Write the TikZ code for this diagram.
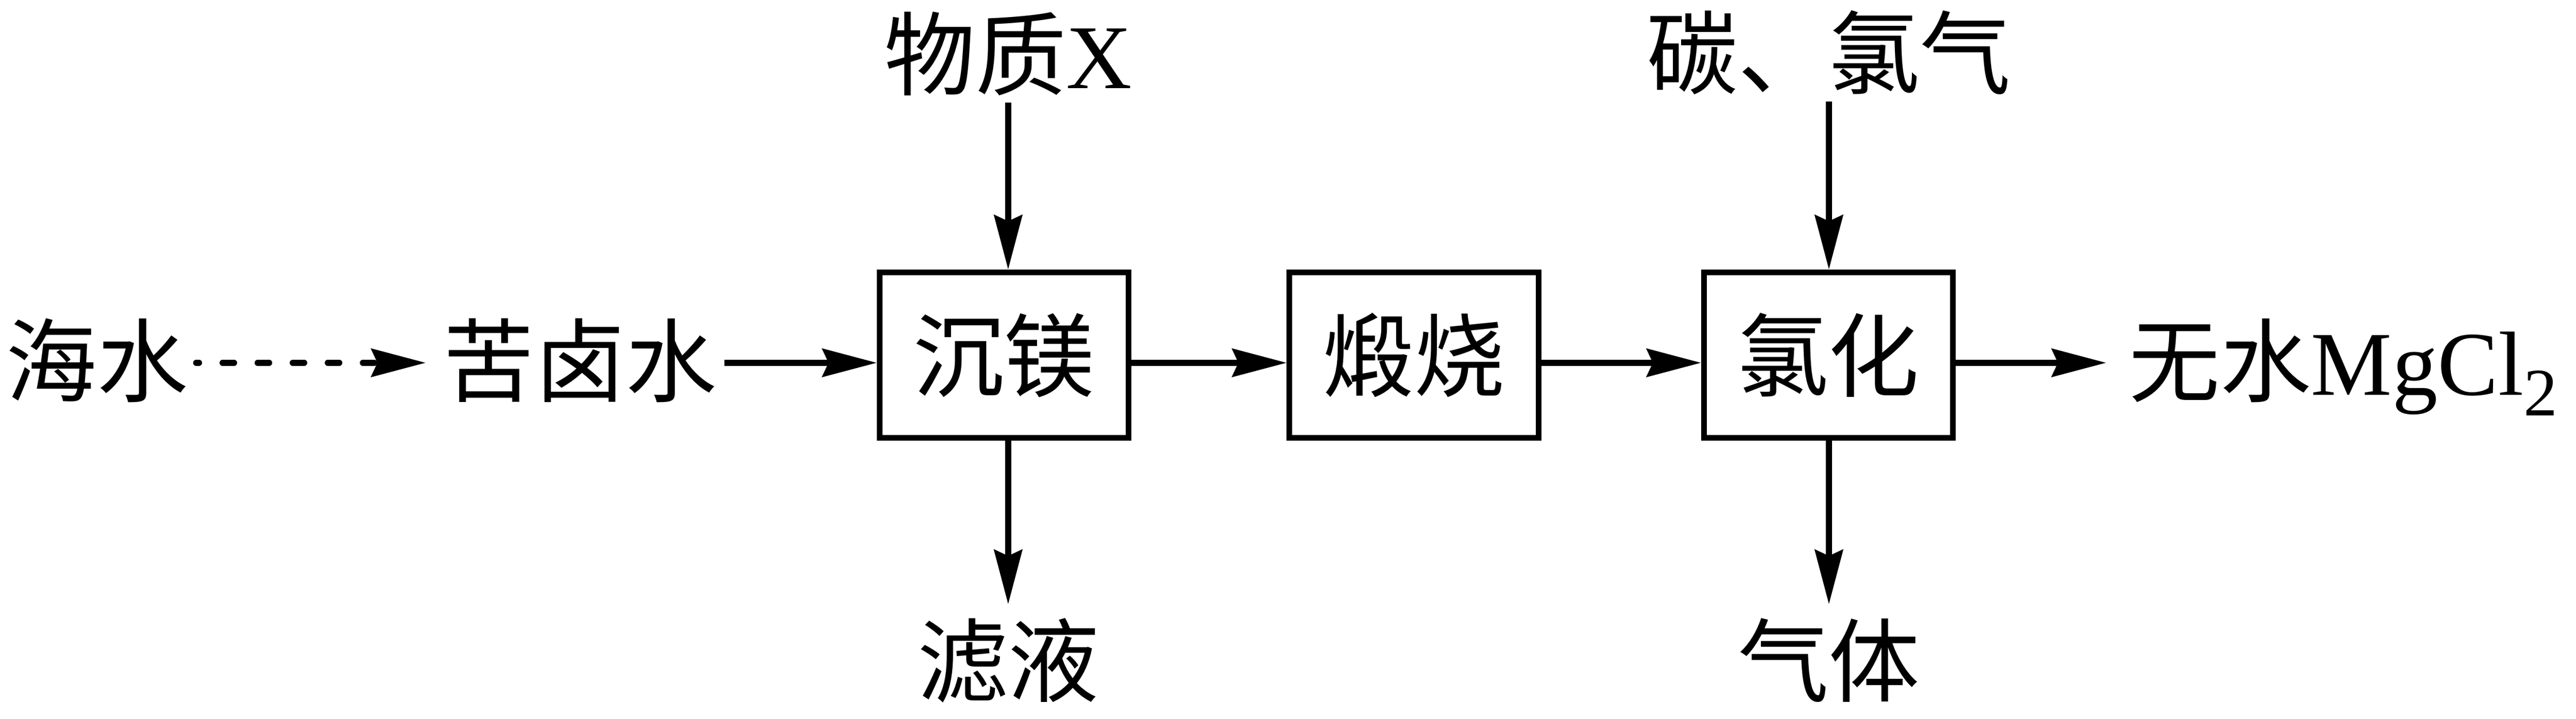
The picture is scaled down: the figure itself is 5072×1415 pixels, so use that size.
\documentclass[tikz,border=0pt]{standalone}
\usepackage{fontspec}
\setmainfont{Liberation Serif}
\newfontfamily\cjk{Noto Sans CJK SC}
\usetikzlibrary{arrows.meta}
\begin{document}
\begin{tikzpicture}[x=0.01cm, y=-0.01cm,
  every node/.style={font=\fontsize{51}{60}\selectfont},
  lbl/.style={inner xsep=0.15cm, inner ysep=0.05cm, text height=1.58cm, text depth=0.22cm},
  procbox/.style={draw, line width=3.1pt, minimum width=4.9cm, minimum height=3.26cm, inner sep=0pt, text height=1.58cm, text depth=0.22cm},
  flow/.style={line width=3.3pt, -{Stealth[length=1.07cm, width=0.55cm, inset=0.12cm]}},
  dflow/.style={flow, line cap=round, dash pattern=on 0.23cm off 0.46cm, dash phase=0.17cm},
]
\useasboundingbox (0,0) rectangle (5072,1415);

% text labels
\node[lbl] (sea)  at (191,709)  {{\cjk 海水}};
\node[lbl] (kulu) at (1142,709) {{\cjk 苦卤水}};
\node[lbl] (mx)   at (1985,106) {{\cjk 物质}X};
\node[lbl] (cl)   at (3601,104) {{\cjk 碳、氯气}};
\node[lbl] (lv)   at (1985,1300) {{\cjk 滤液}};
\node[lbl] (gt)   at (3601,1300) {{\cjk 气体}};
\node[lbl, anchor=west] (out) at (4176,709) {{\cjk 无水}MgCl\raisebox{-0.41cm}{\fontsize{38}{40}\selectfont 2}};

% process boxes
\node[procbox] (b1) at (1977,699) {{\cjk 沉镁}};
\node[procbox] (b2) at (2784,699) {{\cjk 煅烧}};
\node[procbox] (b3) at (3600,699) {{\cjk 氯化}};

% connectors
\draw[dflow, shorten >=0.19cm] ([yshift=-0.05cm]sea.east) -- ([yshift=-0.05cm]kulu.west);
\draw[flow] ([yshift=-0.05cm]kulu.east) -- ([yshift=-0.05cm]kulu.east -| b1.west);
\draw[flow] ([yshift=-0.15cm]b1.east) -- ([yshift=-0.15cm]b2.west);
\draw[flow] ([yshift=-0.15cm]b2.east) -- ([yshift=-0.15cm]b3.west);
\draw[flow, shorten >=0.29cm] ([yshift=-0.15cm]b3.east) -- ([yshift=-0.15cm]b3.east -| out.west);
\draw[flow] (mx.south) -- (mx.south |- b1.north);
\draw[flow] (cl.south) -- (cl.south |- b3.north);
\draw[flow, shorten >=0.15cm] (lv.north |- b1.south) -- (lv.north);
\draw[flow, shorten >=0.15cm] (gt.north |- b3.south) -- (gt.north);
\end{tikzpicture}
\end{document}
